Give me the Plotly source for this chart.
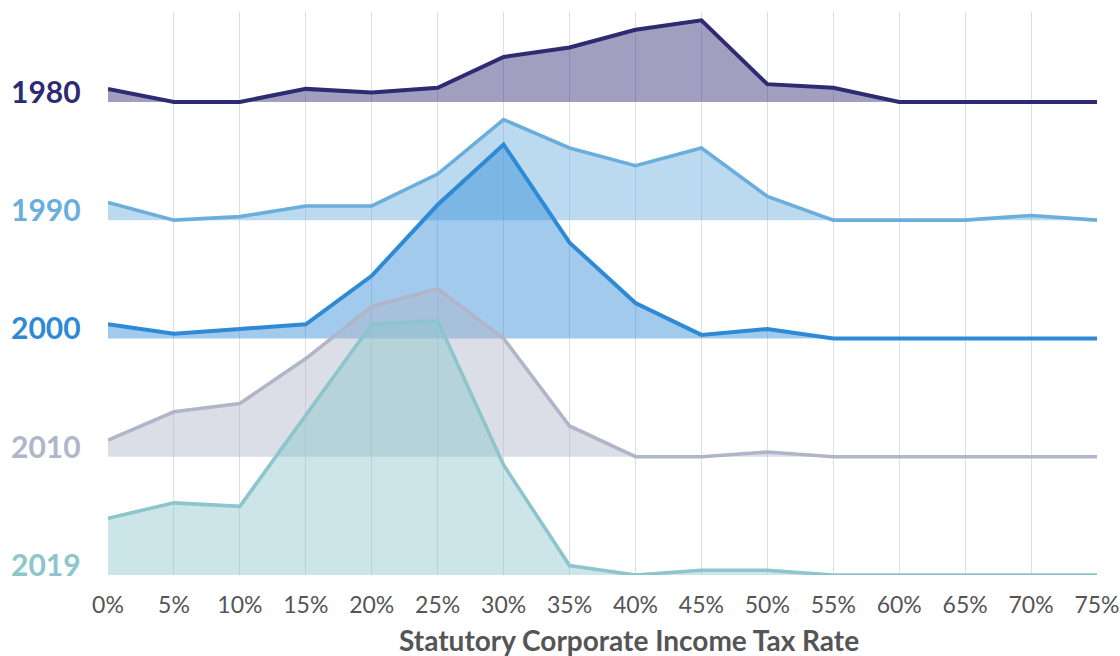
import plotly.graph_objects as go

rates = [0, 5, 10, 15, 20, 25, 30, 35, 40, 45, 50, 55, 60, 65, 70, 75]
tick_labels = [f"{r}%" for r in rates]

years = ["1980", "1990", "2000", "2010", "2019"]
v1980 = [1.1, 0, 0, 1.1, 0.8, 1.2, 3.8, 4.6, 6.1, 6.9, 1.5, 1.2, 0, 0, 0, 0]
v1990 = [1.5, 0, 0.3, 1.2, 1.2, 3.9, 8.5, 6.1, 4.6, 6.1, 2.0, 0, 0, 0, 0.4, 0]
v2000 = [1.2, 0.4, 0.8, 1.2, 5.3, 11.3, 16.4, 8.1, 3.0, 0.3, 0.8, 0, 0, 0, 0, 0]
v2010 = [1.4, 3.8, 4.5, 8.3, 12.7, 14.2, 10.0, 2.6, 0, 0, 0.4, 0, 0, 0, 0, 0]
v2019 = [4.8, 6.1, 5.8, 13.5, 21.2, 21.5, 9.3, 0.8, 0, 0.4, 0.4, 0, 0, 0, 0, 0]
series = [v1980, v1990, v2000, v2010, v2019]

line_colors = ["#2e2b72", "#6aaedc", "#2f8ad6", "#b0b5c8", "#8cc5cb"]
line_widths = [4, 3.6, 4, 3.6, 3.6]
fill_alpha = 0.45
spacing = 10

def rgba(hexc, a):
    h = hexc.lstrip("#")
    r, g, b = int(h[0:2], 16), int(h[2:4], 16), int(h[4:6], 16)
    return f"rgba({r},{g},{b},{a})"

fig = go.Figure()
n = len(years)
for i, (yr, vals, col, lw) in enumerate(zip(years, series, line_colors, line_widths)):
    off = (n - 1 - i) * spacing
    fig.add_trace(go.Scatter(x=rates, y=[off] * len(rates), mode="lines",
                             line=dict(width=0, color="rgba(0,0,0,0)"),
                             hoverinfo="skip", showlegend=False))
    fig.add_trace(go.Scatter(x=rates, y=[off + v for v in vals], mode="lines",
                             line=dict(width=lw, color=col),
                             fill="tonexty", fillcolor=rgba(col, fill_alpha),
                             name=yr, showlegend=False))
    fig.add_annotation(x=0, xref="paper", xanchor="right", xshift=-25,
                       y=off, yref="y", yanchor="bottom", yshift=-9,
                       text=f"<b>{yr}</b>", showarrow=False,
                       font=dict(family="Lato", size=30, color=col))

fig.add_annotation(x=(629 - 108) / (1120 - 108 - 23), xref="paper", xanchor="center",
                   y=-(640 - 575) / (575 - 12), yref="paper", yanchor="middle",
                   text="<b>Statutory Corporate Income Tax Rate</b>", showarrow=False,
                   font=dict(family="Lato", size=28, color="#555555"))

fig.update_layout(
    width=1120, height=656,
    margin=dict(l=108, r=23, t=12, b=81),
    plot_bgcolor="white", paper_bgcolor="white",
    font=dict(family="Lato", color="#555555"),
    xaxis=dict(range=[0, 75], tickvals=rates, ticktext=tick_labels,
               showgrid=True, gridcolor="#dddde5", gridwidth=1, zeroline=False,
               showline=False, ticks="", tickfont=dict(family="Lato", size=23, color="#555555"),
               ticklabelstandoff=14, automargin=False, fixedrange=True),
    yaxis=dict(range=[0, 47.6], visible=False, showgrid=False, zeroline=False, fixedrange=True),
)

fig.write_html("out.html", config={"displayModeBar": False},
               post_script="document.body.style.margin='0';document.body.style.overflow='hidden';")
